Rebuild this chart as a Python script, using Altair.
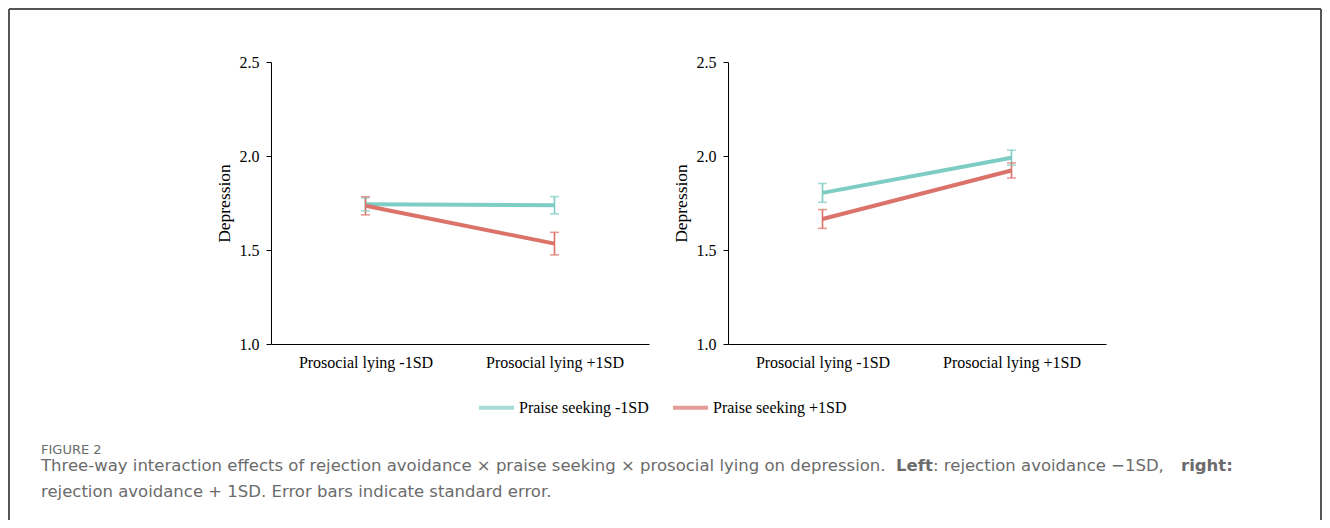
import altair as alt
import pandas as pd

levels = ["Prosocial lying -1SD", "Prosocial lying +1SD"]
series = ["Praise seeking -1SD", "Praise seeking +1SD"]

# Left panel: rejection avoidance -1SD
left_ps_low = [1.743, 1.738]
left_ps_low_se = [0.035, 0.046]
left_ps_high = [1.735, 1.534]
left_ps_high_se = [0.048, 0.060]

# Right panel: rejection avoidance +1SD
right_ps_low = [1.804, 1.991]
right_ps_low_se = [0.050, 0.040]
right_ps_high = [1.665, 1.923]
right_ps_high_se = [0.050, 0.040]

y_ticks = [1.0, 1.5, 2.0, 2.5]

TEAL = "#7ecdc5"
RED = "#db736a"
SERIF = "Liberation Serif"
SANS = "DejaVu Sans"
CAP = "#6b6b6b"
FR = "#555555"


def make_df(low, low_se, high, high_se):
    rows = []
    for s, vals, ses in [(series[0], low, low_se), (series[1], high, high_se)]:
        for lv, v, e in zip(levels, vals, ses):
            rows.append({"level": lv, "series": s, "value": v, "lo": v - e, "hi": v + e})
    return pd.DataFrame(rows)


def panel_layers(df):
    base = alt.Chart(df).encode(
        x=alt.X(
            "level:N",
            sort=levels,
            scale=alt.Scale(type="point", padding=0.5),
            axis=alt.Axis(
                title=None, labelAngle=0, ticks=False, labelPadding=10,
                labelFont=SERIF, labelFontSize=16, labelColor="black",
                domainColor="black", domainWidth=1,
            ),
        ),
        color=alt.Color(
            "series:N",
            scale=alt.Scale(domain=series, range=[TEAL, RED]),
            legend=alt.Legend(title=None),
        ),
    )
    yaxis = alt.Axis(
        title="Depression", values=y_ticks, format=".1f", grid=False,
        labelFont=SERIF, labelFontSize=16, labelColor="black", labelPadding=7,
        tickColor="black", tickSize=5, domainColor="black", domainWidth=1,
        titleFont=SERIF, titleFontSize=17.5, titleFontWeight="normal",
        titleColor="black", titlePadding=6,
    )
    yscale = alt.Scale(domain=[1.0, 2.5], nice=False, zero=False)
    line = base.mark_line(strokeWidth=4).encode(
        y=alt.Y("value:Q", scale=yscale, axis=yaxis)
    )
    bars = base.mark_rule(strokeWidth=1.6).encode(y="lo:Q", y2="hi:Q")
    cap_lo = base.mark_tick(thickness=1.6, size=9).encode(y="lo:Q")
    cap_hi = base.mark_tick(thickness=1.6, size=9).encode(y="hi:Q")
    return [line, bars, cap_lo, cap_hi]


# decoration (frame + caption), coordinates relative to the left plot's origin
dummy = alt.Data(values=[{"a": 1}])
frame_left = alt.Chart(dummy).mark_rule(color=FR, strokeWidth=2).encode(
    x=alt.value(-262), y=alt.value(-53), y2=alt.value(458))
frame_top = alt.Chart(dummy).mark_rule(color=FR, strokeWidth=2).encode(
    x=alt.value(-262), x2=alt.value(1050), y=alt.value(-53))
frame_right = alt.Chart(dummy).mark_rule(color=FR, strokeWidth=2).encode(
    x=alt.value(1050), y=alt.value(-53), y2=alt.value(458))


def txt(s, x, y, size=16.5, weight="normal"):
    return alt.Chart(dummy).mark_text(
        text=s, align="left", baseline="alphabetic", font=SANS,
        fontSize=size, fontWeight=weight, color=CAP,
    ).encode(x=alt.value(x), y=alt.value(y))


cap_layers = [
    txt("FIGURE 2", -230, 392, size=13),
    txt("Three-way interaction effects of rejection avoidance \u00d7 praise seeking \u00d7 prosocial lying on depression.", -230, 409),
    txt("Left", 625, 409, weight="bold"),
    txt(": rejection avoidance \u22121SD,", 662, 409),
    txt("right:", 910, 409, weight="bold"),
    txt("rejection avoidance + 1SD. Error bars indicate standard error.", -230, 435),
]

left = alt.layer(
    *panel_layers(make_df(left_ps_low, left_ps_low_se, left_ps_high, left_ps_high_se)),
    frame_left, frame_top, frame_right, *cap_layers,
).properties(width=378, height=282)

right = alt.layer(
    *panel_layers(make_df(right_ps_low, right_ps_low_se, right_ps_high, right_ps_high_se))
).properties(width=378, height=282)

chart = alt.hconcat(left, right, spacing=79, bounds="flush").properties(
    padding=0
).configure_view(strokeWidth=0).configure_legend(
    orient="none", legendX=206, legendY=326, direction="horizontal",
    symbolType="stroke", symbolStrokeWidth=4, symbolSize=1225,
    labelFont=SERIF, labelFontSize=16, labelColor="black",
    columnPadding=16, labelOffset=3, padding=0,
)

chart.save("out.html", embed_options={"renderer": "svg", "actions": False})
